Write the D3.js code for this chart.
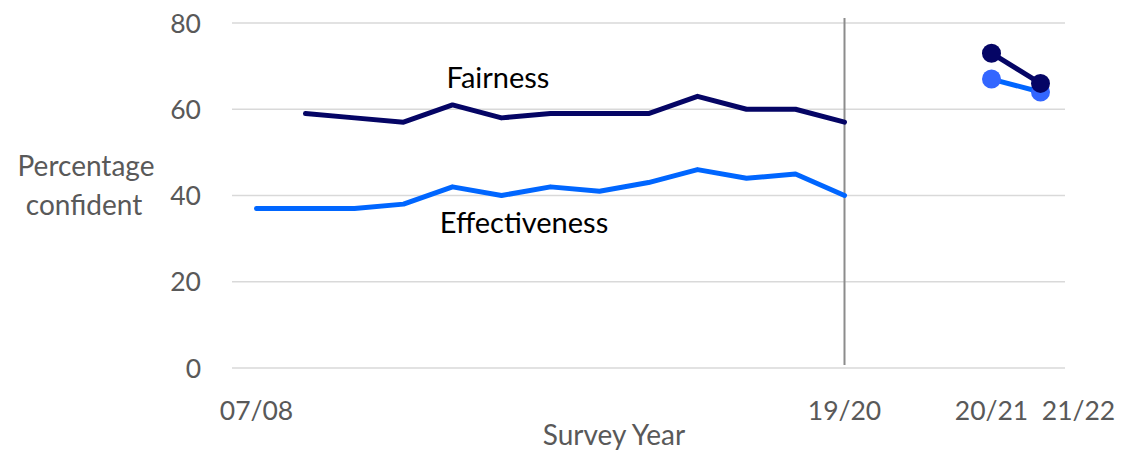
<!DOCTYPE html>
<html>
<head>
<meta charset="utf-8">
<script src="https://cdn.jsdelivr.net/npm/d3@7"></script>
<style>
  body { margin: 0; background: #fff; }
  text { font-family: Lato, "Open Sans", sans-serif; }
</style>
</head>
<body>
<div id="chart"></div>
<script>
var width = 1122,
    height = 454;

// survey years, with two empty slots between 19/20 and 20/21
var years = ["07/08", "08/09", "09/10", "10/11", "11/12", "12/13", "13/14",
             "14/15", "15/16", "16/17", "17/18", "18/19", "19/20",
             "gap1", "gap2", "20/21", "21/22"];
var shownYears = ["07/08", "19/20", "20/21", "21/22"];

var fairnessYears = ["08/09", "09/10", "10/11", "11/12", "12/13", "13/14",
                     "14/15", "15/16", "16/17", "17/18", "18/19", "19/20"];
var fairness = [59, 58, 57, 61, 58, 59, 59, 59, 63, 60, 60, 57];

var effectYears = ["07/08", "08/09", "09/10", "10/11", "11/12", "12/13", "13/14",
                   "14/15", "15/16", "16/17", "17/18", "18/19", "19/20"];
var effectiveness = [37, 37, 37, 38, 42, 40, 42, 41, 43, 46, 44, 45, 40];

var newYears = ["20/21", "21/22"];
var fairnessNew = [73, 66];
var effectNew = [67, 64];

var yTicks = [0, 20, 40, 60, 80];

var darkBlue = "#050565",
    lightBlue = "#0066ff",
    dotBlue = "#3366ff";

var margin = {top: 23, right: 57, bottom: 86, left: 232};

var svg = d3.select("#chart").append("svg")
    .attr("width", width)
    .attr("height", height);

var x = d3.scaleBand()
    .domain(years)
    .range([margin.left, width - margin.right]);

var y = d3.scaleLinear()
    .domain([0, 80])
    .range([height - margin.bottom, margin.top]);

var cx = function(yr) { return x(yr) + x.bandwidth() / 2; };

// gridlines
svg.append("g")
    .selectAll("line")
    .data(yTicks)
    .enter().append("line")
    .attr("x1", margin.left)
    .attr("x2", width - margin.right)
    .attr("y1", d => y(d))
    .attr("y2", d => y(d))
    .style("stroke", "#d9d9d9")
    .style("stroke-width", 1.5);

// y tick labels
svg.append("g")
    .selectAll("text")
    .data(yTicks)
    .enter().append("text")
    .attr("x", 201)
    .attr("y", d => y(d))
    .attr("dy", "0.36em")
    .attr("text-anchor", "end")
    .style("font-size", "26.5px")
    .style("fill", "#595959")
    .text(d => d);

// x tick labels
svg.append("g")
    .selectAll("text")
    .data(shownYears)
    .enter().append("text")
    .attr("x", d => cx(d) + (d == "21/22" ? 38 : 0))
    .attr("y", 420)
    .attr("text-anchor", "middle")
    .style("font-size", "26.5px")
    .style("fill", "#595959")
    .text(d => d);

// axis titles
svg.append("text")
    .attr("x", 614)
    .attr("y", 445)
    .attr("text-anchor", "middle")
    .style("font-size", "28px")
    .style("fill", "#595959")
    .text("Survey Year");

var yTitle = svg.append("text")
    .attr("text-anchor", "middle")
    .style("font-size", "28px")
    .style("fill", "#595959");
yTitle.append("tspan").attr("x", 86).attr("y", 176).text("Percentage");
yTitle.append("tspan").attr("x", 84).attr("y", 215).text("confident");

// break line before the new survey
svg.append("line")
    .attr("x1", cx("19/20"))
    .attr("x2", cx("19/20"))
    .attr("y1", 18)
    .attr("y2", 365)
    .style("stroke", "#8c8c8c")
    .style("stroke-width", 2);

var line = d3.line()
    .x(d => cx(d[0]))
    .y(d => y(d[1]));

svg.append("path")
    .datum(d3.zip(effectYears, effectiveness))
    .attr("d", line)
    .style("fill", "none")
    .style("stroke", lightBlue)
    .style("stroke-width", 5)
    .style("stroke-linecap", "round")
    .style("stroke-linejoin", "round");

svg.append("path")
    .datum(d3.zip(fairnessYears, fairness))
    .attr("d", line)
    .style("fill", "none")
    .style("stroke", darkBlue)
    .style("stroke-width", 5)
    .style("stroke-linecap", "round")
    .style("stroke-linejoin", "round");

// new survey series
svg.append("path")
    .datum(d3.zip(newYears, effectNew))
    .attr("d", line)
    .style("fill", "none")
    .style("stroke", lightBlue)
    .style("stroke-width", 5);

svg.append("g")
    .selectAll("circle")
    .data(d3.zip(newYears, effectNew))
    .enter().append("circle")
    .attr("cx", d => cx(d[0]))
    .attr("cy", d => y(d[1]))
    .attr("r", 9.5)
    .attr("fill", dotBlue);

svg.append("path")
    .datum(d3.zip(newYears, fairnessNew))
    .attr("d", line)
    .style("fill", "none")
    .style("stroke", darkBlue)
    .style("stroke-width", 5);

svg.append("g")
    .selectAll("circle")
    .data(d3.zip(newYears, fairnessNew))
    .enter().append("circle")
    .attr("cx", d => cx(d[0]))
    .attr("cy", d => y(d[1]))
    .attr("r", 9.5)
    .attr("fill", darkBlue);

// series labels
svg.append("text")
    .attr("x", 498)
    .attr("y", 88)
    .attr("text-anchor", "middle")
    .style("font-size", "29px")
    .style("fill", "#000")
    .text("Fairness");

svg.append("text")
    .attr("x", 524)
    .attr("y", 233)
    .attr("text-anchor", "middle")
    .style("font-size", "29px")
    .style("fill", "#000")
    .text("Effectiveness");
</script>
</body>
</html>
